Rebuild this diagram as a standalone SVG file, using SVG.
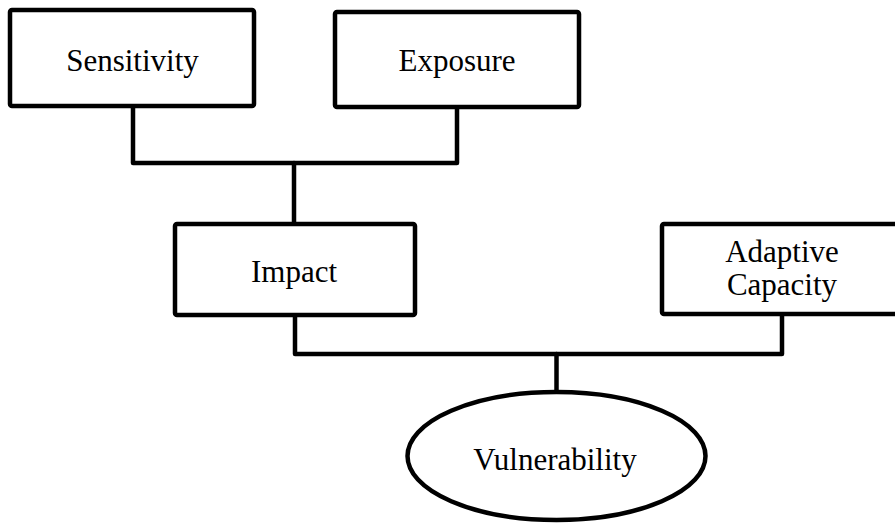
<svg xmlns="http://www.w3.org/2000/svg" width="895" height="531" viewBox="0 0 895 531">
<style>
.box{fill:#fff;stroke:#000;stroke-width:4.5;stroke-linejoin:round}
.ln{fill:none;stroke:#000;stroke-width:4.5;stroke-linejoin:round;stroke-linecap:round}
.t{font-family:'Liberation Serif','Times New Roman',serif;font-size:31px;fill:#000;text-anchor:middle}
</style>
<rect width="895" height="531" fill="#fff"/>
<g id="connectors">
<polyline class="ln" points="133,108 133,163 457,163 457,109"/>
<line class="ln" x1="294" y1="163" x2="294" y2="222"/>
<polyline class="ln" points="295,316 295,354 782,354 782,316"/>
<line class="ln" x1="556.5" y1="354" x2="556.5" y2="392"/>
</g>
<g id="sensitivity">
<rect class="box" x="10" y="10" width="244" height="96" rx="2"/>
<text class="t" style="font-family:'Liberation Serif','Times New Roman',serif" x="132.5" y="71">Sensitivity</text>
</g>
<g id="exposure">
<rect class="box" x="335" y="12" width="244" height="95" rx="2"/>
<text class="t" style="font-family:'Liberation Serif','Times New Roman',serif" x="457" y="71">Exposure</text>
</g>
<g id="impact">
<rect class="box" x="175" y="224" width="240" height="91" rx="2"/>
<text class="t" style="font-family:'Liberation Serif','Times New Roman',serif" x="294" y="282">Impact</text>
</g>
<g id="adaptive">
<rect class="box" x="662" y="224" width="260" height="90" rx="2"/>
<text class="t" style="font-family:'Liberation Serif','Times New Roman',serif" x="782" y="262">Adaptive</text>
<text class="t" style="font-family:'Liberation Serif','Times New Roman',serif" x="782" y="295">Capacity</text>
</g>
<g id="vulnerability">
<ellipse class="box" cx="556.5" cy="456" rx="149" ry="64"/>
<text class="t" style="font-family:'Liberation Serif','Times New Roman',serif" x="555" y="470">Vulnerability</text>
</g>
</svg>
